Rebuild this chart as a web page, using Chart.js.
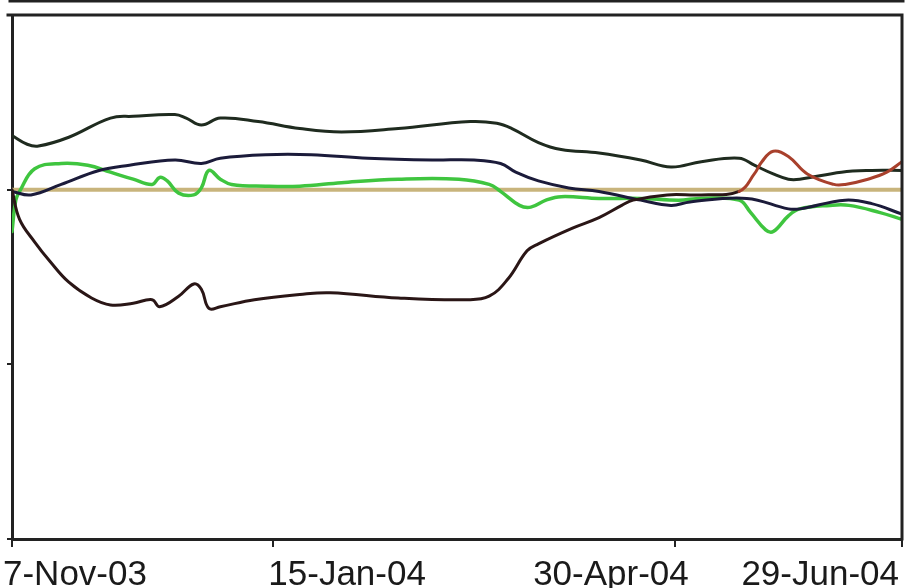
<!DOCTYPE html>
<html>
<head>
<meta charset="utf-8">
<script src="https://cdn.jsdelivr.net/npm/chart.js@4/dist/chart.umd.min.js"></script>
<style>
  html, body { margin: 0; padding: 0; background: #ffffff; }
  #wrap { width: 905px; height: 588px; position: relative; }
  canvas { display: block; }
</style>
</head>
<body>
<div id="wrap"><canvas id="chart" width="905" height="588"></canvas></div>
<script>
// Series are stored as day offsets counted from the start date, with one value per day offset.
const startDate = '2003-11-07';
const tickDates = ['2003-11-07', '2004-01-15', '2004-04-30', '2004-06-29'];
const tickLabels = ['7-Nov-03', '15-Jan-04', '30-Apr-04', '29-Jun-04'];

const upperDays   = [0, 4, 7, 15, 26, 32, 43, 46, 50, 55, 65, 76, 87, 102, 121, 128, 132, 139, 145, 155, 166, 174, 182, 192, 196, 201, 205, 208, 219, 227, 235];
const upperValues = [0.31, 0.26, 0.25, 0.30, 0.41, 0.42, 0.43, 0.41, 0.37, 0.41, 0.39, 0.35, 0.33, 0.35, 0.39, 0.38, 0.35, 0.27, 0.23, 0.21, 0.17, 0.13, 0.16, 0.18, 0.14, 0.09, 0.06, 0.06, 0.10, 0.11, 0.11];

const navyDays   = [0, 5, 13, 23, 31, 43, 50, 55, 67, 79, 94, 111, 122, 129, 133, 139, 147, 155, 166, 174, 179, 194, 205, 208, 220, 227, 235];
const navyValues = [-0.01, -0.03, 0.03, 0.11, 0.14, 0.17, 0.15, 0.18, 0.20, 0.20, 0.18, 0.17, 0.17, 0.15, 0.10, 0.05, 0.01, -0.01, -0.06, -0.09, -0.07, -0.05, -0.11, -0.11, -0.06, -0.08, -0.14];

const greenDays   = [0, 1, 2, 6, 13, 20, 26, 32, 37, 39, 41, 44, 48, 50, 52, 55, 58, 67, 76, 87, 102, 118, 126, 129, 134, 137, 141, 145, 155, 166, 176, 182, 192, 195, 199, 201, 205, 208, 216, 221, 229, 235];
const greenValues = [-0.24, -0.06, -0.01, 0.12, 0.15, 0.14, 0.10, 0.06, 0.03, 0.07, 0.05, -0.02, -0.03, 0.01, 0.11, 0.06, 0.03, 0.02, 0.02, 0.04, 0.06, 0.06, 0.03, -0.01, -0.09, -0.10, -0.06, -0.04, -0.05, -0.05, -0.06, -0.05, -0.06, -0.13, -0.23, -0.24, -0.15, -0.11, -0.09, -0.09, -0.13, -0.17];

const redDays   = [0, 2, 6, 10, 15, 21, 26, 32, 37, 39, 44, 48, 50, 52, 55, 64, 76, 84, 102, 120, 126, 131, 136, 139, 148, 155, 161, 164, 173, 182, 192, 196, 198, 201, 205, 210, 217, 220, 226, 231, 235];
const redValues = [0.00, -0.17, -0.30, -0.41, -0.53, -0.62, -0.66, -0.65, -0.63, -0.67, -0.61, -0.54, -0.57, -0.68, -0.67, -0.63, -0.60, -0.59, -0.62, -0.63, -0.61, -0.51, -0.35, -0.31, -0.22, -0.16, -0.09, -0.06, -0.03, -0.03, -0.01, 0.09, 0.16, 0.22, 0.19, 0.09, 0.03, 0.03, 0.06, 0.10, 0.16];

const baselineDays   = [0, 235];
const baselineValues = [0, 0];

const dayMs = 86400000;
const dayOf = iso => Math.round((Date.parse(iso) - Date.parse(startDate)) / dayMs);
const tickDays = tickDates.map(dayOf);
const toPoints = (days, values) => days.map((d, i) => ({ x: d, y: values[i] }));

const AXIS_COLOR = '#222222';

// Per-label anchoring of the date labels under the axis.
const labelAnchors = [
  { align: 'left',  dx: -9 },
  { align: 'left',  dx: -5 },
  { align: 'right', dx: 14 },
  { align: 'right', dx: -3 }
];

const framePlugin = {
  id: 'frame',
  afterDraw(chart) {
    const { ctx, chartArea: a, scales } = chart;
    ctx.save();
    ctx.strokeStyle = AXIS_COLOR;
    ctx.lineCap = 'square';
    // top and right edges of the plot frame
    ctx.lineWidth = 3;
    ctx.beginPath();
    ctx.moveTo(a.left - 4, a.top);
    ctx.lineTo(a.right, a.top);
    ctx.lineTo(a.right, a.bottom);
    ctx.stroke();
    // outer rule above the plot
    ctx.beginPath();
    ctx.moveTo(a.left - 2, 1);
    ctx.lineTo(a.right + 1, 1);
    ctx.stroke();
    // date labels
    ctx.fillStyle = '#1a1a1a';
    ctx.font = '35px "Liberation Sans", Arial, sans-serif';
    ctx.textBaseline = 'alphabetic';
    tickDays.forEach((d, i) => {
      const x = scales.x.getPixelForValue(d);
      const anc = labelAnchors[i];
      ctx.textAlign = anc.align;
      ctx.fillText(tickLabels[i], x + anc.dx, 585);
    });
    ctx.restore();
  }
};

new Chart(document.getElementById('chart'), {
  type: 'line',
  data: {
    datasets: [
      {
        label: 'Lower',
        data: toPoints(redDays, redValues),
        borderColor: '#2a1616',
        segment: { borderColor: c => c.p0.parsed.x >= 190 ? '#a8402c' : '#2a1616' },
        borderWidth: 3
      },
      {
        label: 'Upper',
        data: toPoints(upperDays, upperValues),
        borderColor: '#1f2b1f',
        borderWidth: 3
      },
      {
        label: 'Middle',
        data: toPoints(navyDays, navyValues),
        borderColor: '#1b1b3a',
        borderWidth: 3
      },
      {
        label: 'Green',
        data: toPoints(greenDays, greenValues),
        borderColor: '#3fc53f',
        borderWidth: 3.5
      },
      {
        label: 'Zero',
        data: toPoints(baselineDays, baselineValues),
        borderColor: '#c8b47c',
        borderWidth: 4,
        tension: 0
      }
    ]
  },
  options: {
    responsive: false,
    animation: false,
    devicePixelRatio: 1,
    layout: { padding: { top: 15, right: 3, left: 0, bottom: 0 } },
    elements: {
      point: { radius: 0 },
      line: { tension: 0.4, borderCapStyle: 'round', borderJoinStyle: 'round' }
    },
    plugins: { legend: { display: false }, tooltip: { enabled: false } },
    scales: {
      x: {
        type: 'linear',
        min: tickDays[0],
        max: tickDays[tickDays.length - 1],
        afterBuildTicks: s => { s.ticks = tickDays.map(v => ({ value: v })); },
        afterFit: s => { s.height = 49; },
        ticks: { display: false },
        grid: { display: true, drawOnChartArea: false, drawTicks: true, tickLength: 8, color: AXIS_COLOR, lineWidth: 2 },
        border: { display: true, color: AXIS_COLOR, width: 3 }
      },
      y: {
        min: -2,
        max: 1,
        ticks: { display: false, stepSize: 1 },
        afterFit: s => { s.width = 12; },
        grid: { display: true, drawOnChartArea: false, drawTicks: true, tickLength: 5, color: AXIS_COLOR, lineWidth: 2 },
        border: { display: true, color: AXIS_COLOR, width: 3 }
      }
    }
  },
  plugins: [framePlugin]
});
</script>
</body>
</html>
